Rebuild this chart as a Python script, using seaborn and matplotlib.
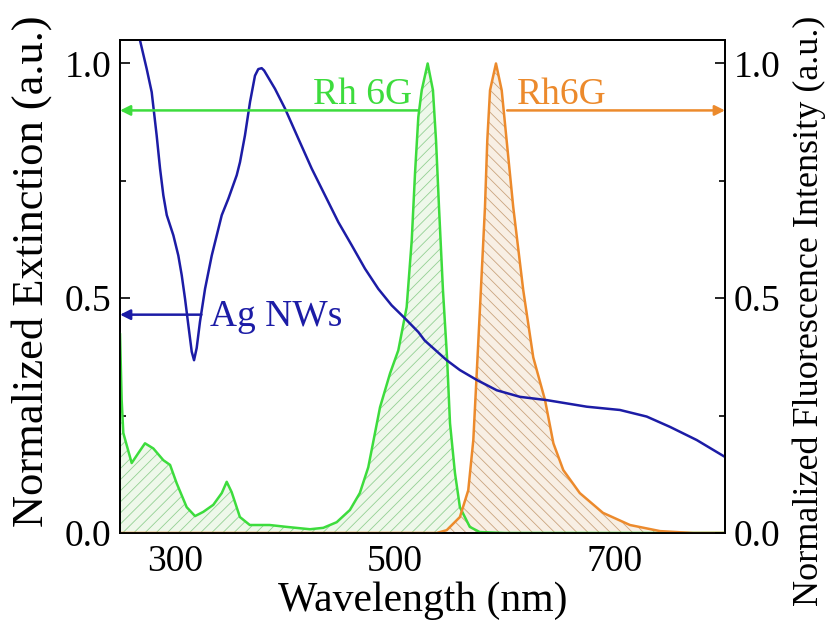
import matplotlib
matplotlib.use("Agg")
import matplotlib.pyplot as plt
import seaborn as sns

# ---------------- data ----------------
ag_wl = [265, 268.2, 274.3, 278.8, 283.3, 286.4, 289.4, 292.5, 298.5, 303, 306.1, 309.1,
         312.1, 315.2, 317.3, 319.7, 322.7, 327.3, 333.4, 342.5, 348.5, 356.1, 359.1,
         363.6, 368.2, 372.7, 375.7, 378.8, 381, 390.9, 400, 412.1, 424.3, 436.4, 448.5,
         460.6, 472.7, 484.8, 496.9, 509.1, 521.2, 527, 547, 559, 574.3, 592.5, 613.6,
         638, 674.3, 704.5, 728.8, 750, 774.3, 800]
ag_ext = [1.12, 1.049, 0.988, 0.939, 0.847, 0.776, 0.719, 0.677, 0.634, 0.591, 0.549, 0.499,
          0.443, 0.386, 0.368, 0.394, 0.45, 0.52, 0.591, 0.677, 0.712, 0.762, 0.79,
          0.847, 0.918, 0.974, 0.988, 0.99, 0.985, 0.946, 0.904, 0.84, 0.776, 0.719, 0.662,
          0.613, 0.563, 0.52, 0.485, 0.457, 0.428, 0.41, 0.368, 0.347, 0.326, 0.304, 0.29,
          0.283, 0.269, 0.262, 0.248, 0.226, 0.198, 0.162]

abs_wl = [250, 251.5, 253, 260.6, 266.6, 272.7, 280.3, 289.4, 295.5, 301.5, 310.6, 318.2,
          325.7, 334.8, 342.5, 347, 351.5, 359, 368, 386, 401.5, 422.7, 434.8, 447, 459,
          468, 475.7, 481.8, 486.4, 495.5, 503, 510.6, 515.2, 518.2, 521.2, 524.3, 529.7,
          534.5, 537.3, 540, 543.6, 547.3, 550, 554.5, 559, 568, 577, 600, 800]
abs_int = [0.425, 0.283, 0.213, 0.149, 0.17, 0.191, 0.18, 0.155, 0.145, 0.106, 0.055, 0.036,
           0.045, 0.06, 0.085, 0.109, 0.087, 0.034, 0.017, 0.017, 0.013, 0.008, 0.011, 0.023,
           0.049, 0.085, 0.14, 0.213, 0.268, 0.34, 0.389, 0.481, 0.623, 0.766, 0.886, 0.943,
           1.0, 0.943, 0.836, 0.694, 0.517, 0.374, 0.234, 0.128, 0.055, 0.013, 0.002, 0.0, 0.0]

fl_wl = [250, 538, 547, 559, 566.6, 571.2, 574.3, 577.3, 581.8, 583.9, 586.4, 591.8, 597,
         601.5, 607.5, 616.6, 625.7, 636.4, 644, 653, 668, 689, 713.6, 741, 771, 800]
fl_int = [0.0, 0.0, 0.006, 0.034, 0.091, 0.198, 0.34, 0.481, 0.694, 0.836, 0.943, 1.0, 0.943,
          0.836, 0.694, 0.517, 0.374, 0.283, 0.191, 0.134, 0.085, 0.043, 0.017, 0.004, 0.0, 0.0]

x_ticks = [300, 500, 700]
y_ticks = [0.0, 0.5, 1.0]
y_ticklabels = ["0.0", "0.5", "1.0"]

# ---------------- style ----------------
sns.set_theme(style="ticks")
plt.rcParams["font.family"] = ["Liberation Serif", "DejaVu Serif"]
plt.rcParams["hatch.linewidth"] = 0.6
plt.rcParams["axes.labelcolor"] = "black"
plt.rcParams["text.color"] = "black"

blue = "#1c1ca6"
green = "#3ddc3d"
orange = "#ec8a2c"

fig = plt.figure(figsize=(8.26, 6.22), dpi=100)
ax = fig.add_axes([0.1453, 0.1431, 0.7324, 0.7926])
ax2 = ax.twinx()

# fills
ax.fill_between(abs_wl, abs_int, 0, facecolor="#eef8ea", edgecolor="#93d093",
                hatch="///", linewidth=0, zorder=1)
ax.fill_between(fl_wl, fl_int, 0, facecolor="#f8efe4", edgecolor="#caa47e",
                hatch="\\\\\\", linewidth=0, zorder=1)

# curves
sns.lineplot(x=abs_wl, y=abs_int, ax=ax, color=green, lw=1.8, estimator=None, sort=False, zorder=3)
sns.lineplot(x=fl_wl, y=fl_int, ax=ax, color=orange, lw=1.8, estimator=None, sort=False, zorder=3)
sns.lineplot(x=ag_wl, y=ag_ext, ax=ax, color=blue, lw=1.8, estimator=None, sort=False, zorder=4)

# arrows + labels
ap = dict(arrowstyle="-|>", lw=1.8, mutation_scale=15, shrinkA=0, shrinkB=0)
ax.annotate("", xy=(250, 0.9), xytext=(521, 0.9), arrowprops=dict(color=green, **ap), zorder=5)
ax.annotate("", xy=(800, 0.9), xytext=(602, 0.9), arrowprops=dict(color=orange, **ap), zorder=5)
ax.annotate("", xy=(250, 0.465), xytext=(324, 0.465), arrowprops=dict(color=blue, **ap), zorder=5)

ax.text(515.5, 0.913, "Rh 6G", ha="right", va="baseline", color=green, fontsize=27)
ax.text(610.5, 0.913, "Rh6G", ha="left", va="baseline", color=orange, fontsize=27)
ax.text(331.5, 0.44, "Ag NWs", ha="left", va="baseline", color=blue, fontsize=27)

# axes
for a in (ax, ax2):
    a.set_xlim(250, 800)
    a.set_ylim(0, 1.05)
    a.set_yticks(y_ticks)
    a.set_yticklabels(y_ticklabels)
    a.set_yticks([0.25, 0.75], minor=True)
    for s in a.spines.values():
        s.set_visible(True)
        s.set_color("black")
        s.set_linewidth(1.3)

ax.set_xticks(x_ticks)
ax.set_xticks([400, 600], minor=True)
ax.tick_params(axis="both", which="major", direction="in", length=7, width=1.2,
               labelsize=27, colors="black", pad=6)
ax.tick_params(axis="both", which="minor", direction="in", length=4.5, width=1.2, colors="black")
ax.tick_params(axis="x", which="major", pad=8)
ax2.tick_params(axis="y", which="major", direction="in", length=7, width=1.2,
                labelsize=27, colors="black", pad=6)
ax2.tick_params(axis="y", which="minor", direction="in", length=4.5, width=1.2, colors="black")

ax.set_xlabel("Wavelength (nm)", fontsize=30, labelpad=2, color="black")
ax.set_ylabel("Normalized Extinction (a.u.)", fontsize=32, color="black")
ax.yaxis.set_label_coords(-0.112, 0.531)
ax2.set_ylabel("Normalized Fluorescence Intensity (a.u.)", fontsize=26, color="black")
ax2.yaxis.set_label_coords(1.112, 0.45)

fig.savefig("out.png", dpi=100)
